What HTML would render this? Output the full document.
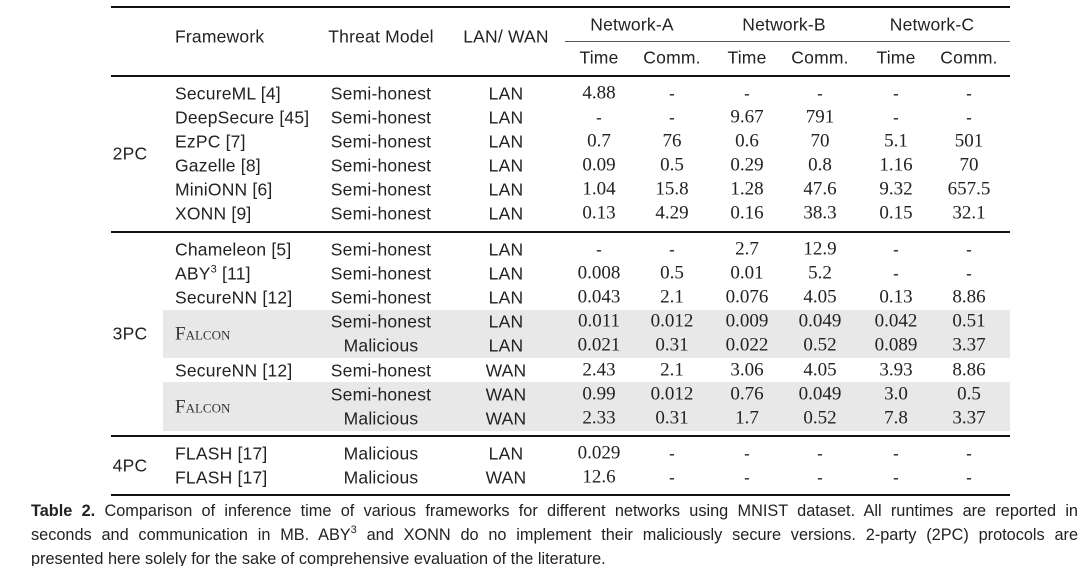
<!DOCTYPE html>
<html><head><meta charset="utf-8">
<style>
body{margin:0;background:#fff;}
#root{position:relative;width:1080px;height:566px;overflow:hidden;background:#fff;color:#222;}
.t{position:absolute;white-space:nowrap;transform:translate(-50%,-50%);line-height:1;}
.s{font-family:"Liberation Sans",sans-serif;font-size:17.5px;letter-spacing:0.2px;}
.n{font-family:"Liberation Serif",serif;font-size:19px;}
.l{transform:translate(0,-50%);}
.rule{position:absolute;background:#111;}
.band{position:absolute;background:#e8e8e8;}
sup{line-height:0;font-size:11px;vertical-align:0;position:relative;top:-0.6em;}
.cap{position:absolute;left:31px;width:1047px;font-family:"Liberation Sans",sans-serif;font-size:16.3px;line-height:24px;height:24px;text-align:justify;text-align-last:justify;color:#222;white-space:nowrap;}
</style></head><body>
<div id="root">
<div class="band" style="left:163px;top:310px;width:847px;height:48px"></div>
<div class="band" style="left:163px;top:382px;width:847px;height:49px"></div>
<div class="rule" style="left:111px;top:6px;width:899px;height:2px"></div>
<div class="rule" style="left:565px;top:41px;width:445px;height:1px;background:#555"></div>
<div class="rule" style="left:111px;top:75px;width:899px;height:2px"></div>
<div class="rule" style="left:111px;top:231px;width:899px;height:2px"></div>
<div class="rule" style="left:111px;top:435px;width:899px;height:2px"></div>
<div class="rule" style="left:111px;top:494px;width:899px;height:2px"></div>

<div class="t s l" style="left:175px;top:37px">Framework</div>
<div class="t s" style="left:381px;top:37px">Threat Model</div>
<div class="t s" style="left:506px;top:37px">LAN/ WAN</div>
<div class="t s" style="left:632px;top:25px">Network-A</div>
<div class="t s" style="left:784px;top:25px">Network-B</div>
<div class="t s" style="left:932px;top:25px">Network-C</div>

<div class="cap" style="top:499px"><b>Table 2.</b> Comparison of inference time of various frameworks for different networks using MNIST dataset. All runtimes are reported in</div>
<div class="cap" style="top:523px">seconds and communication in MB. ABY<sup>3</sup> and XONN do no implement their maliciously secure versions. 2-party (2PC) protocols are</div>
<div class="cap" style="top:547px;text-align-last:left">presented here solely for the sake of comprehensive evaluation of the literature.</div>
</div>
<script>
const colX=[599,672,747,820,896,969];
const subLabels=["Time","Comm.","Time","Comm.","Time","Comm."];
const rowY=[93,117,141,165,189,213,249,273,297,321,345,370,394,418,453,477];
const frameworks=["SecureML [4]","DeepSecure [45]","EzPC [7]","Gazelle [8]","MiniONN [6]","XONN [9]","Chameleon [5]","ABY<sup>3</sup> [11]","SecureNN [12]","","","SecureNN [12]","","","FLASH [17]","FLASH [17]"];
const threats=["Semi-honest","Semi-honest","Semi-honest","Semi-honest","Semi-honest","Semi-honest","Semi-honest","Semi-honest","Semi-honest","Semi-honest","Malicious","Semi-honest","Semi-honest","Malicious","Malicious","Malicious"];
const nets=["LAN","LAN","LAN","LAN","LAN","LAN","LAN","LAN","LAN","LAN","LAN","WAN","WAN","WAN","LAN","WAN"];
const values=[
["4.88","-","-","-","-","-"],
["-","-","9.67","791","-","-"],
["0.7","76","0.6","70","5.1","501"],
["0.09","0.5","0.29","0.8","1.16","70"],
["1.04","15.8","1.28","47.6","9.32","657.5"],
["0.13","4.29","0.16","38.3","0.15","32.1"],
["-","-","2.7","12.9","-","-"],
["0.008","0.5","0.01","5.2","-","-"],
["0.043","2.1","0.076","4.05","0.13","8.86"],
["0.011","0.012","0.009","0.049","0.042","0.51"],
["0.021","0.31","0.022","0.52","0.089","3.37"],
["2.43","2.1","3.06","4.05","3.93","8.86"],
["0.99","0.012","0.76","0.049","3.0","0.5"],
["2.33","0.31","1.7","0.52","7.8","3.37"],
["0.029","-","-","-","-","-"],
["12.6","-","-","-","-","-"]];
const groups=["2PC","3PC","4PC"];
const groupY=[154,334,466];
const root=document.getElementById('root');
function mk(cls,x,y,html){const d=document.createElement('div');d.className=cls;d.style.left=x+'px';d.style.top=y+'px';d.innerHTML=html;root.appendChild(d);return d;}
subLabels.forEach((s,i)=>{const d=mk('t s',colX[i],58,s);

});
groups.forEach((g,i)=>{const d=mk('t s',130,groupY[i],g);

});
[334,407].forEach((y)=>{const d=mk('t n l',175,y,'<span style="font-variant:small-caps;color:#333">Falcon</span>');

});
rowY.forEach((y0,r)=>{
 const y=y0+1;
 if(frameworks[r]){const d=mk('t s l',175,y,frameworks[r]);
 
 }
 const t=mk('t s',381,y,threats[r]);
 
 
 const n=mk('t s',506,y,nets[r]);
 
 
 values[r].forEach((v,c)=>{const d=mk(v==='-'?'t s':'t n',colX[c],v==='-'?y:y0,v);
 
 });
});
</script>
</body></html>
